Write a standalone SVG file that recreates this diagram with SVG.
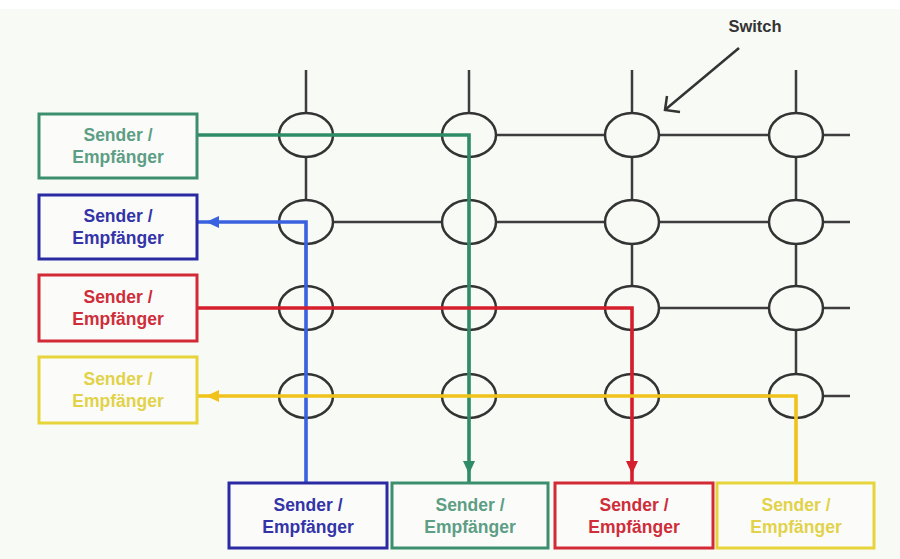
<svg xmlns="http://www.w3.org/2000/svg" width="900" height="559" viewBox="0 0 900 559">
  <style>
    .grid { stroke: #3d3d3d; stroke-width: 2.5; fill: none; }
    .sw { stroke: #333; stroke-width: 2.5; fill: #f8faf6; }
    .box { fill: #fbfcfa; stroke-width: 3; }
    .lbl { font-family: "Liberation Sans", Arial, sans-serif; font-weight: bold; font-size: 17.5px; text-anchor: middle; }
    .route { fill: none; stroke-width: 3.6; stroke-linejoin: miter; }
    .green { stroke: #2f8c66; }
    .blue { stroke: #3a62e0; }
    .red { stroke: #d61f2c; }
    .yellow { stroke: #f1c31a; }
  </style>
  <defs>
    <marker id="ah-green" markerUnits="userSpaceOnUse" markerWidth="14" markerHeight="12" viewBox="0 0 14 12" refX="22" refY="6" orient="auto">
      <path d="M0,0 L13,6 L0,12 z" fill="#2f8c66"/>
    </marker>
    <marker id="ah-blue" markerUnits="userSpaceOnUse" markerWidth="14" markerHeight="12" viewBox="0 0 14 12" refX="22" refY="6" orient="auto">
      <path d="M0,0 L13,6 L0,12 z" fill="#3a62e0"/>
    </marker>
    <marker id="ah-red" markerUnits="userSpaceOnUse" markerWidth="14" markerHeight="12" viewBox="0 0 14 12" refX="22" refY="6" orient="auto">
      <path d="M0,0 L13,6 L0,12 z" fill="#d61f2c"/>
    </marker>
    <marker id="ah-yellow" markerUnits="userSpaceOnUse" markerWidth="14" markerHeight="12" viewBox="0 0 14 12" refX="22" refY="6" orient="auto">
      <path d="M0,0 L13,6 L0,12 z" fill="#f1c31a"/>
    </marker>
  </defs>

  <!-- page -->
  <rect x="0" y="0" width="900" height="559" fill="#ffffff"/>
  <rect x="0" y="9" width="900" height="550" fill="#f8faf6"/>

  <!-- crossbar wiring -->
  <g id="grid" class="grid">
    <!-- columns -->
    <line x1="306" y1="70" x2="306" y2="396"/>
    <line x1="469" y1="70" x2="469" y2="396"/>
    <line x1="632" y1="70" x2="632" y2="396"/>
    <line x1="796" y1="70" x2="796" y2="396"/>
    <!-- rows -->
    <line x1="306" y1="135" x2="850" y2="135"/>
    <line x1="306" y1="222" x2="850" y2="222"/>
    <line x1="306" y1="308" x2="850" y2="308"/>
    <line x1="306" y1="396" x2="850" y2="396"/>
  </g>

  <!-- crosspoint switches -->
  <g id="switches" class="sw">
    <ellipse cx="306" cy="135" rx="27" ry="22"/>
    <ellipse cx="469" cy="135" rx="27" ry="22"/>
    <ellipse cx="632" cy="135" rx="27" ry="22"/>
    <ellipse cx="796" cy="135" rx="27" ry="22"/>
    <ellipse cx="306" cy="222" rx="27" ry="22"/>
    <ellipse cx="469" cy="222" rx="27" ry="22"/>
    <ellipse cx="632" cy="222" rx="27" ry="22"/>
    <ellipse cx="796" cy="222" rx="27" ry="22"/>
    <ellipse cx="306" cy="308" rx="27" ry="22"/>
    <ellipse cx="469" cy="308" rx="27" ry="22"/>
    <ellipse cx="632" cy="308" rx="27" ry="22"/>
    <ellipse cx="796" cy="308" rx="27" ry="22"/>
    <ellipse cx="306" cy="396" rx="27" ry="22"/>
    <ellipse cx="469" cy="396" rx="27" ry="22"/>
    <ellipse cx="632" cy="396" rx="27" ry="22"/>
    <ellipse cx="796" cy="396" rx="27" ry="22"/>
  </g>

  <!-- Switch callout -->
  <g id="switch-label">
    <text x="755" y="32" font-family="Liberation Sans, Arial, sans-serif" font-weight="bold" font-size="16.5" fill="#333" text-anchor="middle">Switch</text>
    <line x1="739" y1="48" x2="666" y2="109" stroke="#333" stroke-width="2.5"/>
    <polyline points="667,96 665,110 680,112" fill="none" stroke="#333" stroke-width="2.5"/>
  </g>

  <!-- connections through the crossbar -->
  <g id="connectors">
    <path class="route green" d="M197,135 H469 V483" marker-end="url(#ah-green)"/>
    <path class="route blue" d="M306,483 V222 H197" marker-end="url(#ah-blue)"/>
    <path class="route red" d="M197,308 H632 V483" marker-end="url(#ah-red)"/>
    <path class="route yellow" d="M796,483 V396 H197" marker-end="url(#ah-yellow)"/>
  </g>

  <!-- stations on the left -->
  <g id="left-1">
    <rect class="box" x="39" y="114" width="158" height="64" stroke="#3c8f6e"/>
    <text class="lbl" x="118" y="141" fill="#5d9e85">Sender /</text>
    <text class="lbl" x="118" y="163" fill="#5d9e85">Empfänger</text>
  </g>
  <g id="left-2">
    <rect class="box" x="39" y="195" width="158" height="64" stroke="#2a2aa3"/>
    <text class="lbl" x="118" y="222" fill="#3434a8">Sender /</text>
    <text class="lbl" x="118" y="244" fill="#3434a8">Empfänger</text>
  </g>
  <g id="left-3">
    <rect class="box" x="39" y="275" width="158" height="66" stroke="#d22a37"/>
    <text class="lbl" x="118" y="303" fill="#cf2d3a">Sender /</text>
    <text class="lbl" x="118" y="325" fill="#cf2d3a">Empfänger</text>
  </g>
  <g id="left-4">
    <rect class="box" x="39" y="357" width="158" height="66" stroke="#e6d43a"/>
    <text class="lbl" x="118" y="385" fill="#e2d24a">Sender /</text>
    <text class="lbl" x="118" y="407" fill="#e2d24a">Empfänger</text>
  </g>

  <!-- stations at the bottom -->
  <g id="bottom-1">
    <rect class="box" x="229" y="483" width="158" height="65" stroke="#2a2aa3"/>
    <text class="lbl" x="308" y="511" fill="#3434a8">Sender /</text>
    <text class="lbl" x="308" y="533" fill="#3434a8">Empfänger</text>
  </g>
  <g id="bottom-2">
    <rect class="box" x="392" y="483" width="156" height="65" stroke="#3c8f6e"/>
    <text class="lbl" x="470" y="511" fill="#5d9e85">Sender /</text>
    <text class="lbl" x="470" y="533" fill="#5d9e85">Empfänger</text>
  </g>
  <g id="bottom-3">
    <rect class="box" x="555" y="483" width="158" height="65" stroke="#d22a37"/>
    <text class="lbl" x="634" y="511" fill="#cf2d3a">Sender /</text>
    <text class="lbl" x="634" y="533" fill="#cf2d3a">Empfänger</text>
  </g>
  <g id="bottom-4">
    <rect class="box" x="717" y="483" width="157" height="65" stroke="#e6d43a"/>
    <text class="lbl" x="796" y="511" fill="#e2d24a">Sender /</text>
    <text class="lbl" x="796" y="533" fill="#e2d24a">Empfänger</text>
  </g>
</svg>
